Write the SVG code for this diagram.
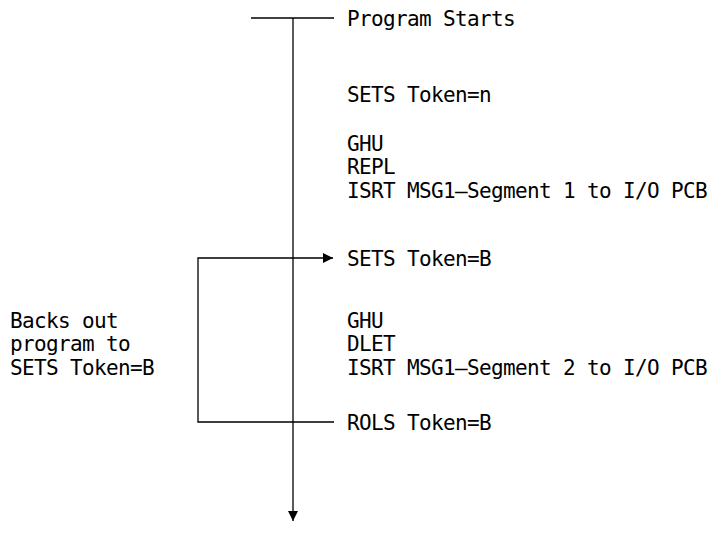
<svg xmlns="http://www.w3.org/2000/svg" width="708" height="534" viewBox="0 0 708 534">
<style>
text{font-family:"DejaVu Sans Mono","Liberation Mono",monospace;font-size:21px;letter-spacing:-0.64px;fill:#000}
.ln{stroke:#000;stroke-width:1.3;fill:none}
</style>
<defs>
<marker id="ah" viewBox="0 0 10 10" refX="10" refY="5" markerWidth="11" markerHeight="10" markerUnits="userSpaceOnUse" orient="auto">
<path d="M0,0 L10,5 L0,10 z" fill="#000"/>
</marker>
</defs>
<g id="connectors">
<line class="ln" x1="251" y1="18" x2="334" y2="18"/>
<line class="ln" x1="293" y1="18" x2="293" y2="521" marker-end="url(#ah)"/>
<polyline class="ln" points="334,422 198,422 198,258 333,258" marker-end="url(#ah)"/>
</g>
<g id="start"><text x="347" y="26">Program Starts</text></g>
<g id="sets-n"><text x="347" y="102">SETS Token=n</text></g>
<g id="block1">
<text x="347" y="151">GHU</text>
<text x="347" y="174">REPL</text>
<text x="347" y="198">ISRT MSG1—Segment 1 to I/O PCB</text>
</g>
<g id="sets-b"><text x="347" y="266">SETS Token=B</text></g>
<g id="block2">
<text x="347" y="328">GHU</text>
<text x="347" y="351">DLET</text>
<text x="347" y="375">ISRT MSG1—Segment 2 to I/O PCB</text>
</g>
<g id="rols"><text x="347" y="430">ROLS Token=B</text></g>
<g id="note">
<text x="10" y="328">Backs out</text>
<text x="10" y="351">program to</text>
<text x="10" y="375">SETS Token=B</text>
</g>
</svg>
